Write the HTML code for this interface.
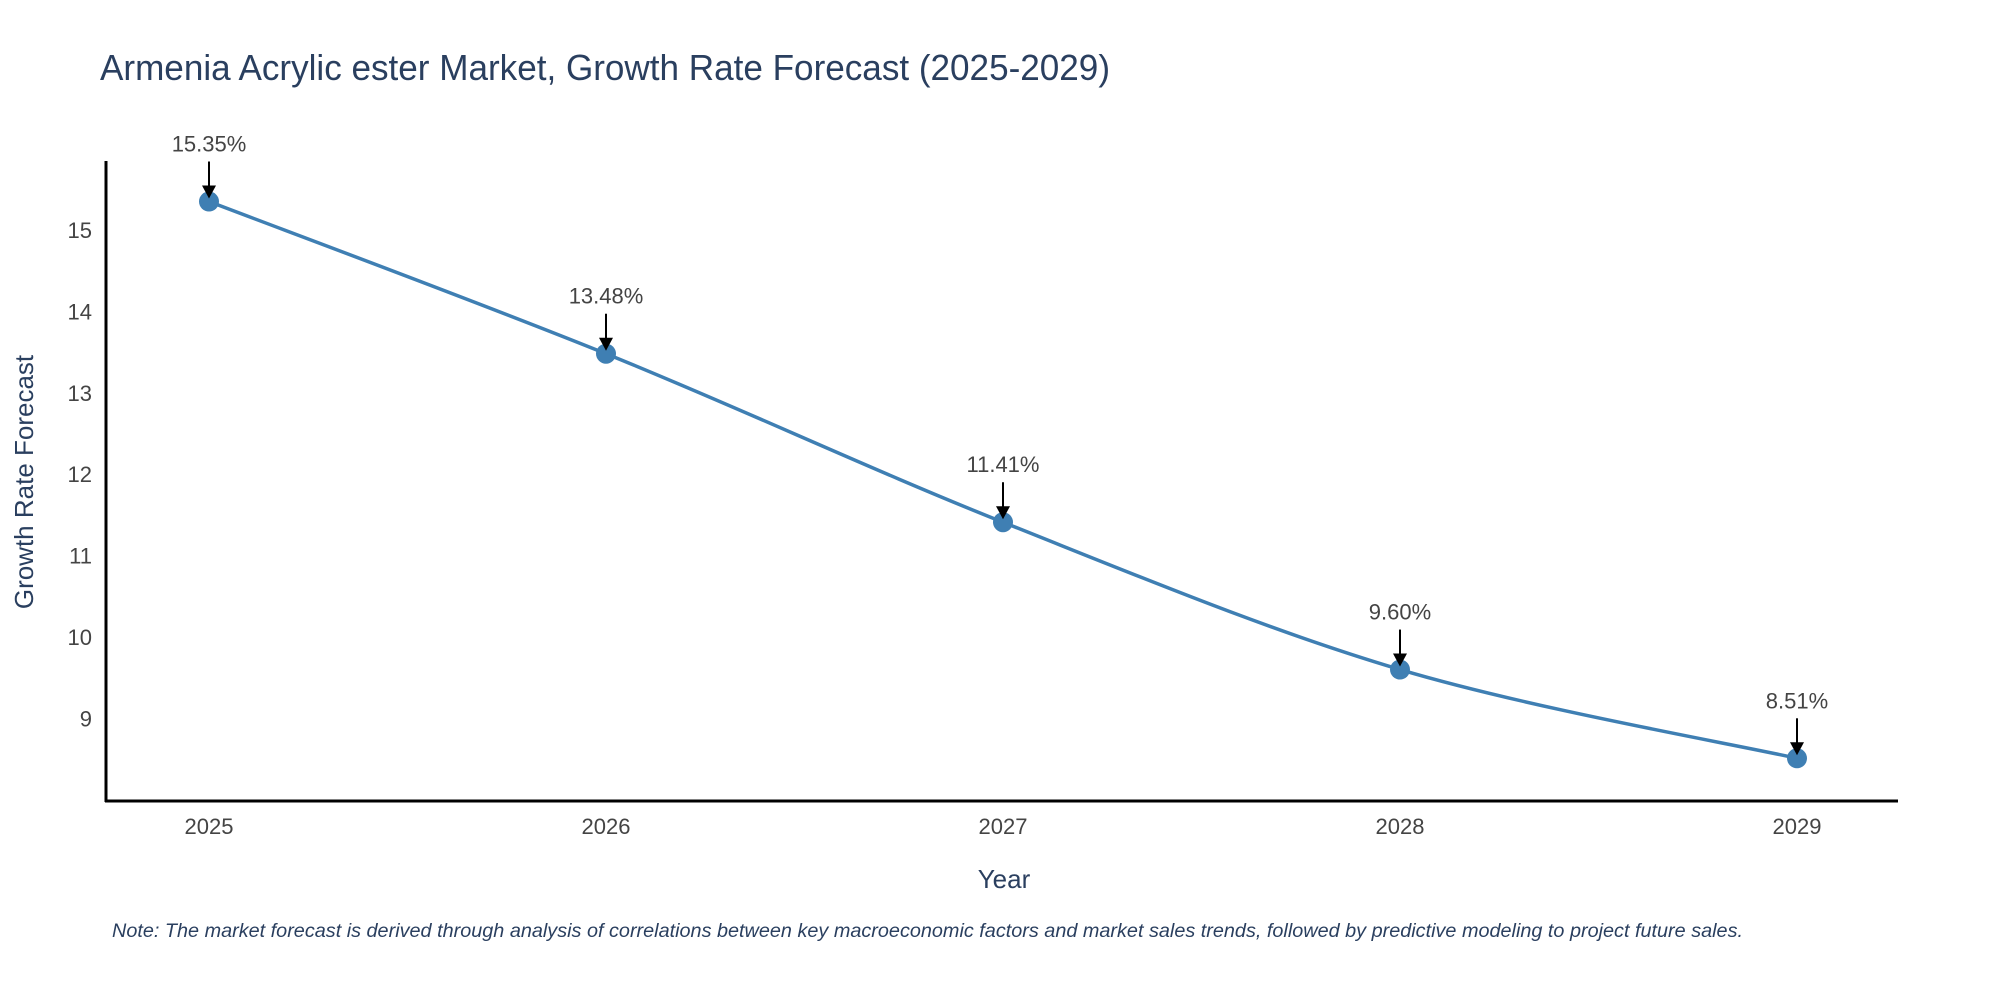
<!DOCTYPE html>
<html><head><meta charset="utf-8"><style>
html,body{margin:0;padding:0;background:#fff;}
svg{display:block;font-family:"Liberation Sans",sans-serif;}
</style></head><body>
<svg id="chart" width="2000" height="1000" viewBox="0 0 2000 1000">
<text x="100" y="80" font-size="36" fill="#2a3f5f" textLength="1010" lengthAdjust="spacingAndGlyphs">Armenia Acrylic ester Market, Growth Rate Forecast (2025-2029)</text>
<g id="yticks"></g>
<g id="xticks"></g>
<line x1="106" y1="161" x2="106" y2="802" stroke="#000" stroke-width="3"/>
<line x1="105" y1="801" x2="1898" y2="801" stroke="#000" stroke-width="3"/>
<path id="line" fill="none" stroke="#3f7fb3" stroke-width="3.5"/>
<g id="points"></g>
<g id="annots"></g>
<text x="1004" y="888" font-size="26" fill="#2a3f5f" text-anchor="middle">Year</text>
<text x="0" y="0" font-size="26" fill="#2a3f5f" text-anchor="middle" transform="translate(33,482) rotate(-90)">Growth Rate Forecast</text>
<text x="112" y="937" font-size="19" font-style="italic" fill="#2a3f5f" textLength="1631" lengthAdjust="spacingAndGlyphs">Note: The market forecast is derived through analysis of correlations between key macroeconomic factors and market sales trends, followed by predictive modeling to project future sales.</text>
</svg>
<script>
const years = ["2025","2026","2027","2028","2029"];
const values = [15.35, 13.48, 11.41, 9.60, 8.51];
const valueLabels = ["15.35%","13.48%","11.41%","9.60%","8.51%"];
const yTicks = [9,10,11,12,13,14,15];

const NS="http://www.w3.org/2000/svg";
function xPos(i){return 209 + i*(1797-209)/(years.length-1);}
function yPos(v){return 230 - (v-15)*81.4;}
function mk(tag,attrs,parent){const e=document.createElementNS(NS,tag);for(const k in attrs)e.setAttribute(k,attrs[k]);parent.appendChild(e);return e;}

const yt=document.getElementById('yticks');
yTicks.forEach(t=>{
  const e=mk('text',{x:92,y:yPos(t)+8,'font-size':22,fill:'#444','text-anchor':'end'},yt);
  
  
  e.textContent=t;
});
const xt=document.getElementById('xticks');
years.forEach((y,i)=>{
  const e=mk('text',{x:xPos(i),y:834,'font-size':22,fill:'#444','text-anchor':'middle'},xt);
  
  
  e.textContent=y;
});
// Catmull-Rom spline
const pts=values.map((v,i)=>[xPos(i),yPos(v)]);
let d=`M${pts[0][0]},${pts[0][1]}`;
const s=0.5/3*2;
for(let i=0;i<pts.length-1;i++){
  const p0=pts[Math.max(i-1,0)],p1=pts[i],p2=pts[i+1],p3=pts[Math.min(i+2,pts.length-1)];
  const c1=[p1[0]+(p2[0]-p0[0])*s/2,p1[1]+(p2[1]-p0[1])*s/2];
  const c2=[p2[0]-(p3[0]-p1[0])*s/2,p2[1]-(p3[1]-p1[1])*s/2];
  d+=` C${c1[0]},${c1[1]} ${c2[0]},${c2[1]} ${p2[0]},${p2[1]}`;
}
document.getElementById('line').setAttribute('d',d);
const pg=document.getElementById('points'),ag=document.getElementById('annots');
pts.forEach((p,i)=>{
  const c=mk('circle',{cx:p[0],cy:p[1],r:10,fill:'#3f7fb3'},pg);
  
  
  const l=mk('line',{x1:p[0],y1:p[1]-40,x2:p[0],y2:p[1]-12,stroke:'#000','stroke-width':2},ag);
  
  
  const h=mk('polygon',{points:`${p[0]-7},${p[1]-16} ${p[0]+7},${p[1]-16} ${p[0]},${p[1]-3}`,fill:'#000'},ag);
  
  
  const t=mk('text',{x:p[0],y:p[1]-50,'font-size':22,fill:'#444','text-anchor':'middle'},ag);
  
  
  t.textContent=valueLabels[i];
});
</script>
</body></html>
